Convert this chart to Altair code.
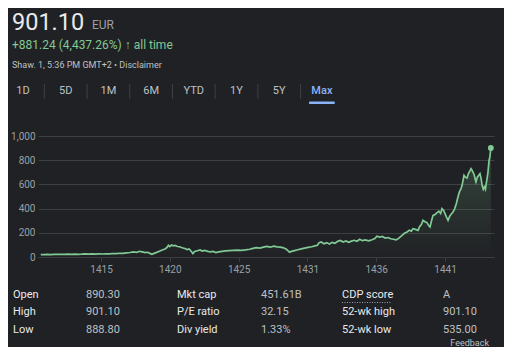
import altair as alt
import pandas as pd

# ---------------- data ----------------
years = [1990.62, 1990.85, 1991.1, 1991.35, 1991.6, 1991.85, 1992.1, 1992.35, 1992.6, 1992.85,
         1993.1, 1993.35, 1993.6, 1993.85, 1994.1, 1994.35, 1994.6, 1994.85, 1995.1, 1995.35,
         1995.6, 1995.85, 1996.1, 1996.35, 1996.6, 1996.85, 1997.1, 1997.35, 1997.6, 1997.8,
         1998.0, 1998.2, 1998.4, 1998.55, 1998.7, 1998.85, 1999.0, 1999.2, 1999.45, 1999.65,
         1999.8, 1999.9, 2000.0, 2000.12, 2000.25, 2000.4, 2000.55, 2000.7, 2000.9, 2001.1,
         2001.25, 2001.4, 2001.55, 2001.68, 2001.8, 2002.0, 2002.2, 2002.35, 2002.55, 2002.75,
         2002.95, 2003.15, 2003.35, 2003.55, 2003.8, 2004.05, 2004.3, 2004.6, 2004.9, 2005.2,
         2005.5, 2005.8, 2006.05, 2006.3, 2006.55, 2006.8, 2007.05, 2007.3, 2007.55, 2007.8,
         2008.05, 2008.25, 2008.45, 2008.58, 2008.7, 2008.85, 2009.05, 2009.3, 2009.55, 2009.8,
         2010.05, 2010.3, 2010.55, 2010.72, 2010.85, 2011.0, 2011.2, 2011.4, 2011.6, 2011.8,
         2012.0, 2012.2, 2012.4, 2012.6, 2012.8, 2013.0, 2013.2, 2013.4, 2013.6, 2013.8,
         2014.0, 2014.2, 2014.45, 2014.7, 2014.9, 2015.05, 2015.25, 2015.45, 2015.65, 2015.85,
         2016.05, 2016.25, 2016.45, 2016.6, 2016.73, 2016.9, 2017.05, 2017.24, 2017.4, 2017.55,
         2017.67, 2017.85, 2018.04, 2018.15, 2018.28, 2018.4, 2018.55, 2018.69, 2018.8, 2018.91,
         2019.02, 2019.13, 2019.28, 2019.42, 2019.55, 2019.68, 2019.78, 2019.9, 2020.0, 2020.1,
         2020.22, 2020.35, 2020.46, 2020.58, 2020.7, 2020.82, 2020.94, 2021.05, 2021.15, 2021.24,
         2021.32, 2021.38, 2021.48, 2021.6, 2021.7, 2021.8, 2021.89, 2021.96, 2022.03, 2022.12,
         2022.2, 2022.25, 2022.35, 2022.45, 2022.54, 2022.62, 2022.7, 2022.78, 2022.86, 2022.94,
         2023.0, 2023.06, 2023.12, 2023.2, 2023.26, 2023.33]
prices = [20, 19, 21, 20, 22, 21, 22, 21, 23, 22,
          24, 22, 23, 25, 23, 25, 24, 26, 25, 27,
          26, 29, 28, 31, 30, 34, 37, 43, 39, 47,
          42, 36, 39, 30, 22, 30, 36, 46, 58, 66,
          80, 97, 86, 99, 92, 95, 87, 85, 76, 70,
          62, 67, 48, 28, 45, 52, 58, 49, 55, 47,
          43, 46, 37, 42, 47, 50, 53, 55, 57, 55,
          59, 64, 71, 78, 74, 82, 87, 81, 89, 84,
          82, 76, 66, 52, 40, 47, 53, 60, 67, 73,
          79, 85, 92, 97, 118, 124, 110, 119, 107, 121,
          114, 129, 137, 124, 133, 121, 131, 138, 130, 146,
          135, 141, 134, 143, 152, 172, 164, 170, 157, 161,
          151, 147, 141, 152, 165, 180, 196, 207, 222, 214,
          234, 228, 220, 250, 268, 303, 292, 284, 262, 248,
          300, 344, 352, 366, 378, 360, 400, 385, 358, 332,
          303, 340, 355, 371, 398, 440, 496, 540, 560, 592,
          640, 675, 660, 653, 690, 710, 730, 718, 702, 680,
          640, 620, 660, 676, 689, 650, 590, 560, 580, 560,
          610, 650, 700, 799, 826, 901.1]

x_tick_values = [1995, 2000, 2005, 2010, 2015, 2020]
x_tick_labels = ["1415", "1420", "1425", "1431", "1436", "1441"]
y_tick_values = [0, 200, 400, 600, 800, 1000]

price_text = "901.10"
currency_text = "EUR"
change_text = "+881.24 (4,437.26%) \u2191 all time"
date_text = "Shaw. 1, 5:36 PM GMT+2 \u2022 Disclaimer"
range_tabs = ["1D", "5D", "1M", "6M", "YTD", "1Y", "5Y", "Max"]
active_tab = "Max"

stat_labels = [["Open", "High", "Low"], ["Mkt cap", "P/E ratio", "Div yield"],
               ["CDP score", "52-wk high", "52-wk low"]]
stat_values = [["890.30", "901.10", "888.80"], ["451.61B", "32.15", "1.33%"],
               ["A", "901.10", "535.00"]]
feedback_text = "Feedback"

# ---------------- style ----------------
BG = "#202124"
GREEN = "#81c995"
GRID = "#3c4043"
GREY = "#9aa0a6"
LIGHT = "#bdc1c6"
WHITE = "#e8eaed"
BLUE = "#8ab4f8"
FONT = "Roboto"

df = pd.DataFrame({"year": years, "price": prices})

label_expr = ""
for v, l in zip(x_tick_values, x_tick_labels):
    label_expr += f"datum.value == {v} ? '{l}' : "
label_expr += "''"

x_enc = alt.X("year:Q", scale=alt.Scale(domain=[1990.42, 2023.56], nice=False, zero=False),
              axis=alt.Axis(values=x_tick_values, labelExpr=label_expr, grid=False, domain=False,
                            ticks=True, tickSize=4, tickColor=GRID, labelColor=GREY,
                            labelFontSize=10, labelPadding=3, title=None, labelFont=FONT))
y_enc = alt.Y("price:Q", scale=alt.Scale(domain=[0, 1000], nice=False),
              axis=alt.Axis(values=y_tick_values, format=",d", grid=True, gridColor=GRID,
                            domain=False, ticks=False, labelColor=GREY, labelFontSize=10,
                            labelPadding=3, title=None, labelFont=FONT))

base = alt.Chart(df)
area = base.mark_area(
    color=alt.Gradient(gradient="linear",
                       stops=[alt.GradientStop(color="rgba(129,201,149,0.22)", offset=0),
                              alt.GradientStop(color="rgba(129,201,149,0)", offset=1)],
                       x1=1, x2=1, y1=0, y2=1)
).encode(x=x_enc, y=y_enc)
line = base.mark_line(color=GREEN, strokeWidth=1.7).encode(x=x_enc, y=y_enc)
dot = alt.Chart(df.tail(1)).mark_circle(color=GREEN, size=34, opacity=1).encode(x=x_enc, y=y_enc)

one = alt.Data(values=[{}])


def txt(s, x, y, size, color, align="left", baseline="alphabetic", weight="normal"):
    return alt.Chart(one).mark_text(text=s, align=align, baseline=baseline, fontSize=size,
                                    color=color, fontWeight=weight, font=FONT).encode(
        x=alt.value(x), y=alt.value(y))


layers = [area, line, dot]
# header
layers.append(txt(price_text, -26, -106, 23.5, WHITE))
layers.append(txt(currency_text, 54, -107.5, 12, GREY))
layers.append(txt(change_text, -26, -86.7, 12, GREEN))
layers.append(txt(date_text, -26, -67.8, 9, LIGHT))

# range tabs
for i, t in enumerate(range_tabs):
    cx = -15 + 42.7 * i
    active = t == active_tab
    layers.append(txt(t, cx, -45, 11, BLUE if active else LIGHT, align="center",
                      baseline="middle", weight=500 if active else "normal"))
    if i < len(range_tabs) - 1:
        sx = cx + 21.35
        layers.append(alt.Chart(one).mark_rule(color=GRID, strokeWidth=1).encode(
            x=alt.value(sx), y=alt.value(-52), y2=alt.value(-37)))
    if active:
        layers.append(alt.Chart(one).mark_rect(color=BLUE, cornerRadius=1.5).encode(
            x=alt.value(cx - 13), x2=alt.value(cx + 13), y=alt.value(-34.5), y2=alt.value(-32)))

# stats table
col_label_x = [-25, 139, 304]
col_value_x = [48, 223, 405]
row_y = [159, 176.3, 194]
for c in range(3):
    for r in range(3):
        layers.append(txt(stat_labels[c][r], col_label_x[c], row_y[r], 11, WHITE, baseline="middle"))
        layers.append(txt(stat_values[c][r], col_value_x[c], row_y[r], 11, LIGHT, baseline="middle"))
# dotted underline under CDP score
layers.append(alt.Chart(one).mark_rule(color=GREY, strokeWidth=1, strokeDash=[1, 1.5]).encode(
    x=alt.value(304), x2=alt.value(354), y=alt.value(166.5)))

layers.append(txt(feedback_text, 451, 210, 9, LIGHT, align="right"))

chart = alt.layer(*layers).properties(
    width=456, height=121,
    autosize=alt.AutoSizeParams(type="none"),
    padding={"left": 30, "top": 128, "right": 10, "bottom": 90},
    background=BG,
).configure_view(stroke=None)

chart.save("out.html", embed_options={"renderer": "svg", "actions": False})
